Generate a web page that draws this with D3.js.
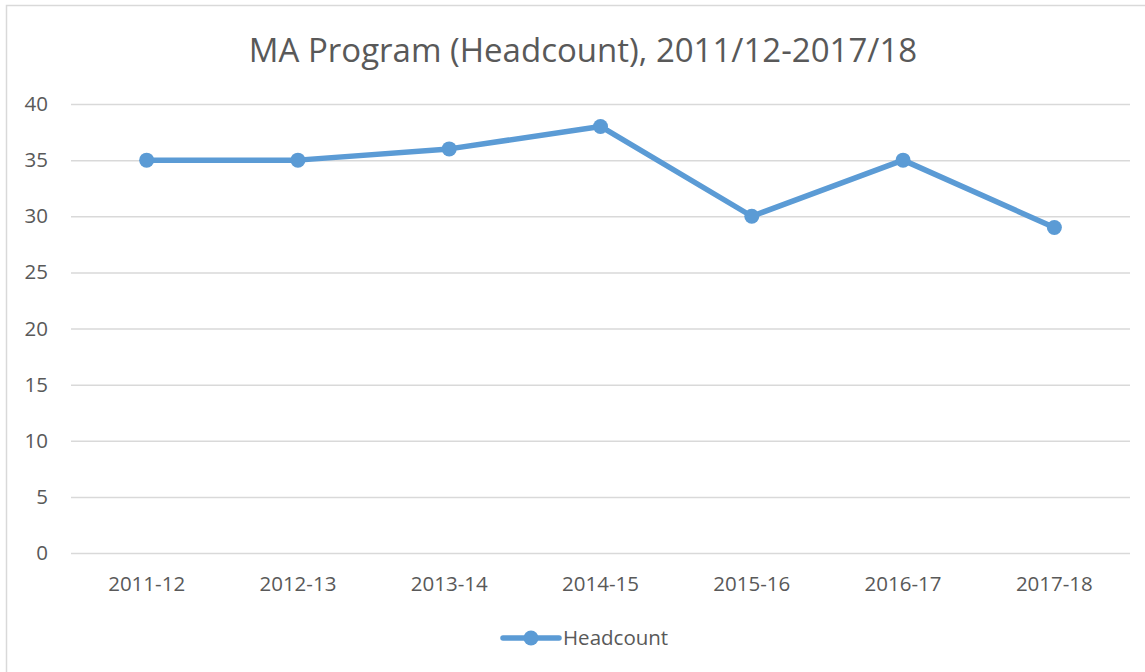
<!DOCTYPE html>
<html>
<head>
<meta charset="utf-8">
<script src="https://cdn.jsdelivr.net/npm/d3@7"></script>
<style>
  body { margin: 0; background: #fff; }
  svg { display: block; }
  svg text { font-family: "Open Sans", "Noto Sans", sans-serif; }
</style>
</head>
<body>
<svg id="chart"></svg>
<script>
// chart data
const categories = ["2011-12", "2012-13", "2013-14", "2014-15", "2015-16", "2016-17", "2017-18"];
const headcount = [35, 35, 36, 38, 30, 35, 29];
const yTicks = [0, 5, 10, 15, 20, 25, 30, 35, 40];
const title = "MA Program (Headcount), 2011/12-2017/18";
const seriesName = "Headcount";

const w = 1145, h = 672;
const margin = { left: 71, right: 15, top: 104, bottom: 119 };
const lineColor = "#5b9bd5";
const textColor = "#595959";

const svg = d3.select("#chart").attr("width", w).attr("height", h);

// outer chart border
svg.append("rect")
  .attr("x", 6.5).attr("y", 5.5)
  .attr("width", w + 10).attr("height", h + 10)
  .attr("fill", "none").attr("stroke", "#d9d9d9").attr("stroke-width", 1.5);

const xScale = d3.scaleBand()
  .domain(categories)
  .range([margin.left, w - margin.right]);

const yScale = d3.scaleLinear()
  .domain([0, 40])
  .range([h - margin.bottom, margin.top]);

// gridlines
const yAxis = d3.axisLeft(yScale).tickValues(yTicks)
  .tickSize(-(w - margin.left - margin.right)).tickPadding(23);

const gy = svg.append("g")
  .attr("transform", `translate(${margin.left},0)`)
  .call(yAxis);
gy.select(".domain").remove();
gy.selectAll(".tick line").attr("stroke", "#d9d9d9").attr("stroke-width", 1.5);
gy.selectAll(".tick text").attr("fill", textColor).style("font-size", "20.5px");

// x labels
const xAxis = d3.axisBottom(xScale).tickSize(0).tickPadding(23);
const gx = svg.append("g")
  .attr("transform", `translate(0,${h - margin.bottom})`)
  .call(xAxis);
gx.select(".domain").remove();
gx.selectAll(".tick text").attr("fill", textColor).style("font-size", "20.5px");

// title
svg.append("text")
  .attr("x", 583).attr("y", 62)
  .attr("text-anchor", "middle")
  .attr("fill", textColor)
  .style("font-size", "33px")
  .text(title);

const cx = d => xScale(d) + xScale.bandwidth() / 2;

const line = d3.line()
  .x((d, i) => cx(categories[i]))
  .y(d => yScale(d));

svg.append("path")
  .datum(headcount)
  .attr("d", line)
  .attr("fill", "none")
  .attr("stroke", lineColor)
  .attr("stroke-width", 5.5)
  .attr("stroke-linejoin", "round");

svg.selectAll("circle.pt")
  .data(headcount)
  .enter()
  .append("circle")
  .attr("class", "pt")
  .attr("cx", (d, i) => cx(categories[i]))
  .attr("cy", d => yScale(d))
  .attr("r", 7.5)
  .attr("fill", lineColor);

// legend
const lg = svg.append("g").attr("transform", "translate(503,638)");
lg.append("line")
  .attr("x1", 0).attr("x2", 56)
  .attr("stroke", lineColor).attr("stroke-width", 5.5).attr("stroke-linecap", "round");
lg.append("circle").attr("cx", 28).attr("r", 7.5).attr("fill", lineColor);
lg.append("text")
  .attr("x", 60).attr("y", 0).attr("dy", "0.35em")
  .attr("fill", textColor)
  .style("font-size", "20.5px")
  .text(seriesName);
</script>
</body>
</html>
